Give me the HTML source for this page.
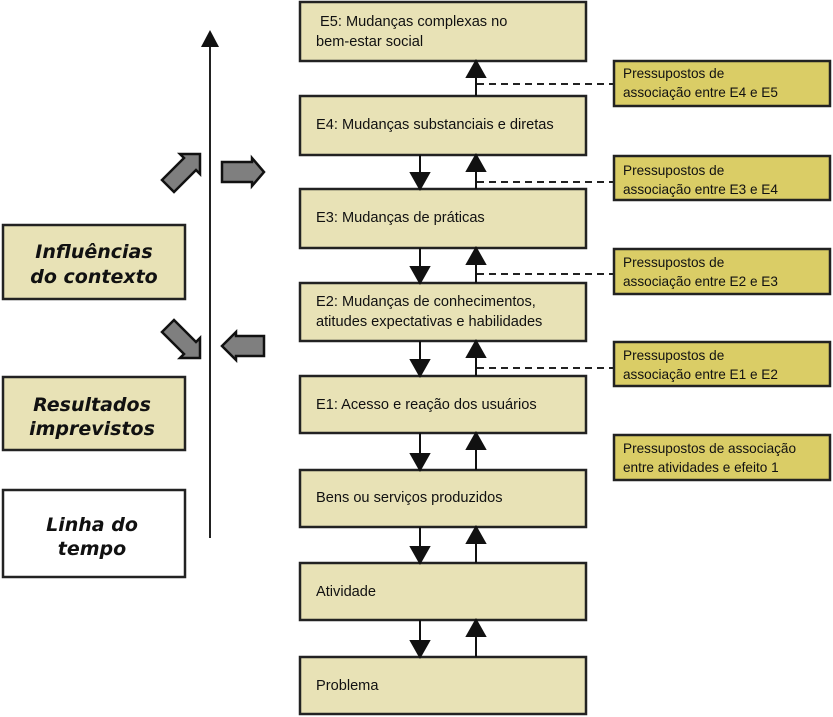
<!DOCTYPE html>
<html><head><meta charset="utf-8"><style>
body{margin:0;background:#fff}
svg{display:block}
.m{fill:#e8e2b6;stroke:#222;stroke-width:2.5}
.s{fill:#dacd66;stroke:#222;stroke-width:2.5}
.t{font-family:"Liberation Sans",sans-serif;font-size:14.6px;fill:#111}
.u{font-family:"Liberation Sans",sans-serif;font-size:13.6px;fill:#111}
.c{font-family:"Comic Sans MS","DejaVu Sans",sans-serif;font-style:italic;font-weight:bold;font-size:19px;fill:#111}
.g{fill:#7f7f7f;stroke:#111;stroke-width:2.5;stroke-linejoin:miter}
</style></head><body>
<svg width="833" height="717" viewBox="0 0 833 717">
<line x1="210" y1="46" x2="210" y2="538" stroke="#222" stroke-width="2"/>
<polygon points="210,30 201,47 219,47" fill="#111"/>
<polygon class="g" points="162,180 184,158 180,154 200,154 200,174 196,170 174,192"/>
<polygon class="g" points="222,162 252,162 252,158 264,172 252,186 252,182 222,182"/>
<polygon class="g" points="162,332 174,320 196,342 200,338 200,358 180,358 184,354"/>
<polygon class="g" points="264,336 236,336 236,332 222,346 236,360 236,356 264,356"/>
<rect class="m" x="3" y="225" width="182" height="74"/>
<text class="c" x="94" y="258" text-anchor="middle">Influências</text>
<text class="c" x="94" y="283" text-anchor="middle">do contexto</text>
<rect class="m" x="3" y="377" width="182" height="73"/>
<text class="c" x="92" y="411" text-anchor="middle">Resultados</text>
<text class="c" x="92" y="435" text-anchor="middle">imprevistos</text>
<rect x="3" y="490" width="182" height="87" fill="#fff" stroke="#222" stroke-width="2.5"/>
<text class="c" x="92" y="531" text-anchor="middle">Linha do</text>
<text class="c" x="92" y="555" text-anchor="middle">tempo</text>
<rect class="m" x="300" y="2" width="286" height="59"/>
<text class="t" x="320" y="26">E5: Mudanças complexas no</text>
<text class="t" x="316" y="46">bem-estar social</text>
<rect class="m" x="300" y="96" width="286" height="59"/>
<text class="t" x="316" y="129">E4: Mudanças substanciais e diretas</text>
<rect class="m" x="300" y="189" width="286" height="59"/>
<text class="t" x="316" y="222">E3: Mudanças de práticas</text>
<rect class="m" x="300" y="283" width="286" height="58"/>
<text class="t" x="316" y="306">E2: Mudanças de conhecimentos,</text>
<text class="t" x="316" y="326">atitudes expectativas e habilidades</text>
<rect class="m" x="300" y="376" width="286" height="57"/>
<text class="t" x="316" y="409">E1: Acesso e reação dos usuários</text>
<rect class="m" x="300" y="470" width="286" height="57"/>
<text class="t" x="316" y="502">Bens ou serviços produzidos</text>
<rect class="m" x="300" y="563" width="286" height="57"/>
<text class="t" x="316" y="596">Atividade</text>
<rect class="m" x="300" y="657" width="286" height="57"/>
<text class="t" x="316" y="690">Problema</text>
<g>
<rect class="s" x="614" y="61" width="216" height="45"/>
<text class="u" x="623" y="78">Pressupostos  de</text>
<text class="u" x="623" y="97">associação entre E4 e E5</text>
<rect class="s" x="614" y="156" width="216" height="44"/>
<text class="u" x="623" y="175">Pressupostos  de</text>
<text class="u" x="623" y="194">associação entre E3 e E4</text>
<rect class="s" x="614" y="249" width="216" height="45"/>
<text class="u" x="623" y="267">Pressupostos  de</text>
<text class="u" x="623" y="286">associação entre E2 e E3</text>
<rect class="s" x="614" y="342" width="216" height="44"/>
<text class="u" x="623" y="360">Pressupostos  de</text>
<text class="u" x="623" y="379">associação entre E1 e E2</text>
<rect class="s" x="614" y="435" width="216" height="45"/>
<text class="u" x="623" y="453">Pressupostos de associação</text>
<text class="u" x="623" y="472">entre atividades e efeito 1</text>
</g>
<g stroke="#222" stroke-width="2" stroke-dasharray="7,5">
<line x1="477" y1="84" x2="614" y2="84"/>
<line x1="477" y1="182" x2="614" y2="182"/>
<line x1="477" y1="274" x2="614" y2="274"/>
<line x1="477" y1="368" x2="614" y2="368"/>
</g>
<g stroke="#111" stroke-width="2" fill="#111">
<line x1="476" y1="96" x2="476" y2="76"/><polygon points="476,61 467,77 485,77"/>
<line x1="420" y1="155" x2="420" y2="174"/><polygon points="420,189 411,173 429,173"/>
<line x1="476" y1="189" x2="476" y2="170"/><polygon points="476,155 467,171 485,171"/>
<line x1="420" y1="248" x2="420" y2="268"/><polygon points="420,283 411,267 429,267"/>
<line x1="476" y1="283" x2="476" y2="263"/><polygon points="476,248 467,264 485,264"/>
<line x1="420" y1="341" x2="420" y2="361"/><polygon points="420,376 411,360 429,360"/>
<line x1="476" y1="376" x2="476" y2="356"/><polygon points="476,341 467,357 485,357"/>
<line x1="420" y1="433" x2="420" y2="455"/><polygon points="420,470 411,454 429,454"/>
<line x1="476" y1="470" x2="476" y2="448"/><polygon points="476,433 467,449 485,449"/>
<line x1="420" y1="527" x2="420" y2="548"/><polygon points="420,563 411,547 429,547"/>
<line x1="476" y1="563" x2="476" y2="542"/><polygon points="476,527 467,543 485,543"/>
<line x1="420" y1="620" x2="420" y2="642"/><polygon points="420,657 411,641 429,641"/>
<line x1="476" y1="657" x2="476" y2="635"/><polygon points="476,620 467,636 485,636"/>
</g>
</svg>
</body></html>
